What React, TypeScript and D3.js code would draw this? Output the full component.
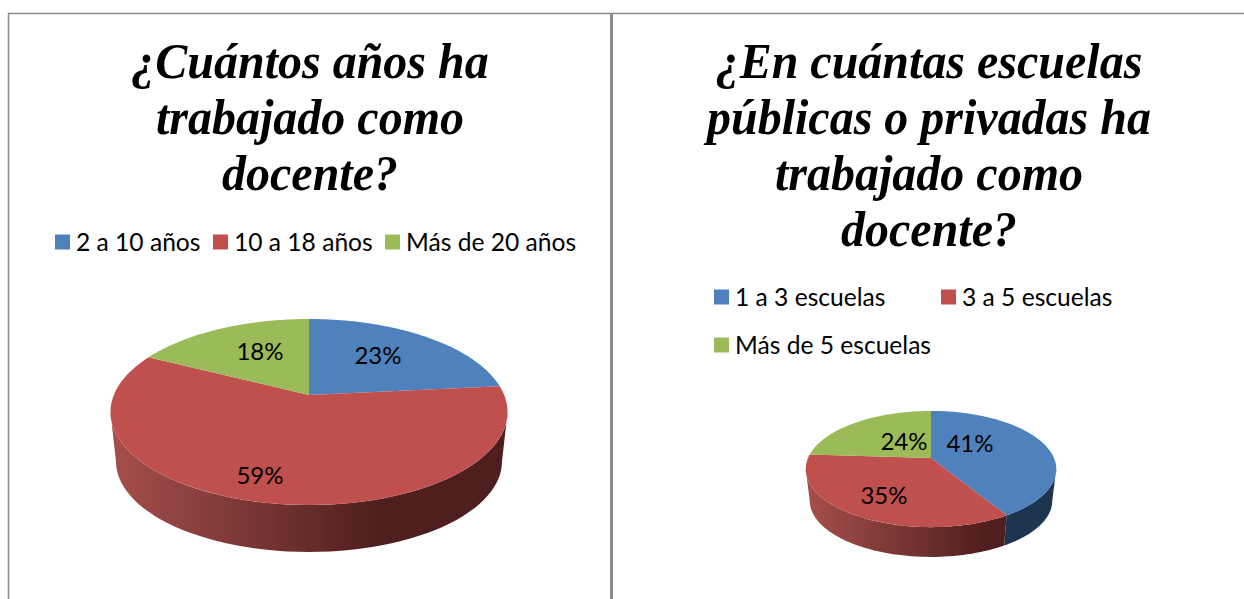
import React from 'react';
import * as d3 from 'd3';

const yearCategories = ['2 a 10 años', '10 a 18 años', 'Más de 20 años'];
const yearValues = [23.4, 59.1, 17.5];
const yearTitle = ['¿Cuántos años ha', 'trabajado como', 'docente?'];

const schoolCategories = ['1 a 3 escuelas', '3 a 5 escuelas', 'Más de 5 escuelas'];
const schoolValues = [41.4, 34.6, 24];
const schoolTitle = ['¿En cuántas escuelas', 'públicas o privadas ha', 'trabajado como', 'docente?'];

const topColors = ['#4F81BD', '#C0504D', '#9BBB59'];
const titleFont = '"Liberation Serif", serif';
const labelFont = 'Lato, "Open Sans", sans-serif';

// perspective of the disc: k is the foreshortening towards the viewer
const leftPie = {
  id: 'years', cx: 309, cy: 395, rx: 195.2, ry: 89.9, k: 0.183, depth: 50, shrink: 0.972, darkStop: 0.68,
  labelAt: [[378, 356], [260, 476], [260, 352]],
};
const rightPie = {
  id: 'schools', cx: 931, cy: 458, rx: 123, ry: 56, k: 0.19, depth: 32, shrink: 0.968, darkStop: 0.9,
  labelAt: [[970, 444], [884, 496], [904, 442]],
};

const wallFill = ['#1E3550', null, '#5E7030'];

const Pie3D = ({ pie, values }: any) => {
  const { id, cx, cy, rx, ry, k, depth, shrink, darkStop, labelAt } = pie;
  const slices = d3.pie<number>().sort(null)(values);

  const project = (a: number, scale = 1, dy = 0): [number, number] => {
    const u = Math.sin(a);
    const v = -Math.cos(a);
    const w = 1 - k * v;
    return [cx + (scale * rx * u) / w, cy + dy + (scale * ry * v) / w];
  };
  const samples = (a: number, b: number) => d3.range(0, 61).map(i => a + ((b - a) * i) / 60);
  const line = d3.line();

  // only the front of the rim is visible
  const frontStart = Math.acos(-k);
  const frontEnd = 2 * Math.PI - frontStart;

  return (
    <g>
      <defs>
        <linearGradient id={`wall-${id}`} x1="0" x2="1" y1="0" y2="0">
          <stop offset="0" stopColor="#A64F4C" />
          <stop offset={darkStop} stopColor="#4E1F1E" />
          <stop offset="1" stopColor="#4E1F1E" />
        </linearGradient>
      </defs>
      {slices.map((s, i) => {
        const a = Math.max(s.startAngle, frontStart);
        const b = Math.min(s.endAngle, frontEnd);
        if (a >= b) return null;
        const upper = samples(a, b).map(t => project(t));
        const lower = samples(b, a).map(t => project(t, shrink, depth));
        return (
          <path
            key={`wall-${i}`}
            d={`${line([...upper, ...lower])}Z`}
            fill={wallFill[i] || `url(#wall-${id})`}
          />
        );
      })}
      {slices.map((s, i) => (
        <path
          key={`top-${i}`}
          d={`${line([[cx, cy], ...samples(s.startAngle, s.endAngle).map(t => project(t))])}Z`}
          fill={topColors[i]}
        />
      ))}
      {slices.map((s, i) => (
        <text
          key={`label-${i}`}
          x={labelAt[i][0]}
          y={labelAt[i][1]}
          dy="0.35em"
          textAnchor="middle"
          fontFamily={labelFont}
          fontSize={24}
          fill="#000"
        >
          {Math.round(s.value)}%
        </text>
      ))}
    </g>
  );
};

// the original title is set a little narrower than Liberation Serif
const Title = ({ lines, x, y }: any) => (
  <g transform={`translate(${x},0) scale(0.96,1)`}>
    <text fontFamily={titleFont} fontWeight="bold" fontStyle="italic" fontSize={50} textAnchor="middle" fill="#000">
      {lines.map((l: string, i: number) => (
        <tspan key={l} x={0} y={y + i * 56}>{l}</tspan>
      ))}
    </text>
  </g>
);

const LegendItem = ({ label, color, x, y }: any) => (
  <g>
    <rect x={x} y={y - 7.5} width={15} height={15} fill={color} />
    <text x={x + 21} y={y} dy="0.35em" fontFamily={labelFont} fontSize={24.6} fill="#000">{label}</text>
  </g>
);

export default function App() {
  const leftLegend = [[55, 242], [213, 242], [385, 242]];
  const rightLegend = [[714, 297], [941, 297], [714, 345]];
  return (
    <svg width={1244} height={599} style={{ position: 'absolute', left: 0, top: 0, display: 'block', background: '#fff' }}>
      <line x1={8} x2={1244} y1={13.5} y2={13.5} stroke="#8C8C8C" strokeWidth={1.5} />
      <line x1={8.5} x2={8.5} y1={13} y2={599} stroke="#8C8C8C" strokeWidth={1.5} />
      <line x1={611.5} x2={611.5} y1={13} y2={599} stroke="#8C8C8C" strokeWidth={3} />

      <Title lines={yearTitle} x={310} y={78} />
      <Title lines={schoolTitle} x={929} y={78} />

      {yearCategories.map((c, i) => (
        <LegendItem key={c} label={c} color={topColors[i]} x={leftLegend[i][0]} y={leftLegend[i][1]} />
      ))}
      {schoolCategories.map((c, i) => (
        <LegendItem key={c} label={c} color={topColors[i]} x={rightLegend[i][0]} y={rightLegend[i][1]} />
      ))}

      <Pie3D pie={leftPie} values={yearValues} />
      <Pie3D pie={rightPie} values={schoolValues} />
    </svg>
  );
}
